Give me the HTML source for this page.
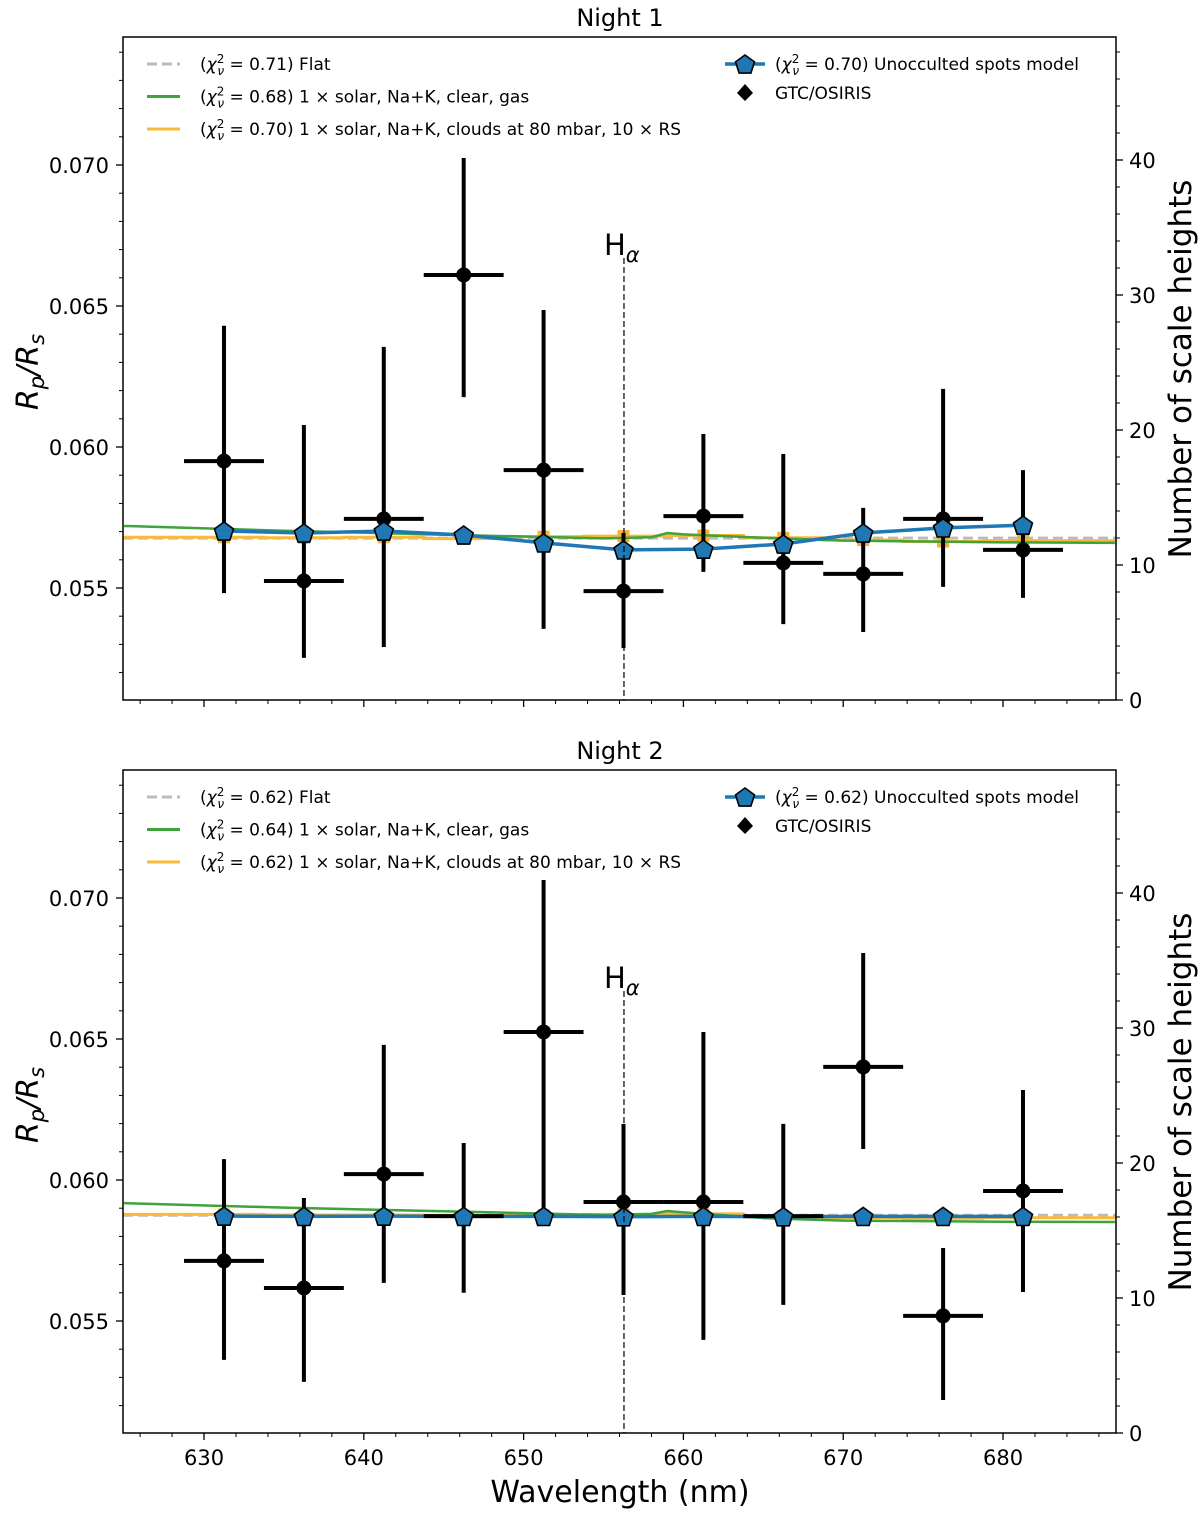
<!DOCTYPE html>
<html><head><meta charset="utf-8">
<style>
body{margin:0;background:#fff;}
svg{display:block;font-family:"DejaVu Sans","Liberation Sans",sans-serif;}
</style></head>
<body>
<svg id="chart" width="1200" height="1513" viewBox="0 0 1200 1513" xmlns="http://www.w3.org/2000/svg"></svg>
<script>
// ---- data ----
const wavelengths = [631.25,636.25,641.25,646.25,651.25,656.25,661.25,666.25,671.25,676.25,681.25];
const binHalfWidth = 2.5;
const night1Depth = [0.0595,0.05525,0.05745,0.0661,0.05918,0.05489,0.05755,0.05589,0.0555,0.05745,0.05635];
const night1ErrHigh = [0.0643,0.06078,0.06355,0.07025,0.06486,0.05695,0.06046,0.05975,0.05784,0.06206,0.05918];
const night1ErrLow = [0.05482,0.05252,0.05291,0.06177,0.05355,0.05287,0.05557,0.05372,0.05344,0.05504,0.05465];
const night1Spots = [0.05702,0.05695,0.05702,0.05688,0.0566,0.05635,0.05638,0.05656,0.05695,0.05713,0.05723];
const night1Flat = 0.05677;
const night1Clouds = [0.05680,0.05678,0.05680,0.05675,0.05682,0.05684,0.05686,0.05678,0.05670,0.05665,0.05668];
const night1ClearWl = [625,635,645,655,658,659,660,665,670,680,687];
const night1Clear = [0.0572,0.05703,0.05689,0.05676,0.0568,0.05695,0.0569,0.05678,0.05668,0.05662,0.0566];
const night1Chi = ["0.71","0.68","0.70","0.70"];

const night2Depth = [0.05713,0.05617,0.06021,0.05872,0.06525,0.05922,0.05922,0.05872,0.06401,0.05518,0.05961];
const night2ErrHigh = [0.06074,0.05936,0.06479,0.06131,0.07064,0.06199,0.06525,0.06199,0.06805,0.05759,0.06319];
const night2ErrLow = [0.05362,0.05284,0.05635,0.056,0.05872,0.05592,0.05433,0.05557,0.0611,0.0522,0.05603];
const night2Spots = [0.05872,0.05871,0.05872,0.05871,0.05871,0.0587,0.05871,0.05870,0.05871,0.05871,0.05871];
const night2Flat = 0.05875;
const night2Clouds = [0.05878,0.05876,0.05876,0.05874,0.05876,0.05878,0.05880,0.05872,0.05866,0.05864,0.05866];
const night2ClearWl = [625,635,645,655,658,659,660,665,670,680,687];
const night2Clear = [0.05918,0.05902,0.05889,0.05876,0.0588,0.0589,0.05885,0.05865,0.05856,0.05852,0.05851];
const night2Chi = ["0.62","0.64","0.62","0.62"];

const xTicks = [630,640,650,660,670,680];
const yTicks = [0.055,0.060,0.065,0.070];
const yTickLabels = ["0.055","0.060","0.065","0.070"];
const rightTicks = [0,10,20,30,40];
const hAlpha = 656.28;

// ---- layout ----
const NS="http://www.w3.org/2000/svg";
const svg=document.getElementById('chart');
const X0=123,X1=1116,XMIN=624.93,XMAX=687.07;
const sx=v=>X0+(v-XMIN)/(XMAX-XMIN)*(X1-X0);
function mk(tag,attrs,parent,text){const e=document.createElementNS(NS,tag);for(const k in attrs)e.setAttribute(k,attrs[k]);if(text!==undefined)e.textContent=text;(parent||svg).appendChild(e);return e;}

function panel(top,title,depth,hi,lo,spots,flat,clouds,clearWl,clear,chi,idx){
  const Y0=top,Y1=top+663;
  const sy=v=>Y0+128+(0.070-v)*28200;
  const sr=h=>Y1-h*13.5;
  const g=mk('g',{});
  
  
  const t=mk('text',{x:620,y:top-11,'text-anchor':'middle','font-size':24},g,title);
  
  
  const clip='clip'+idx;
  const cp=mk('clipPath',{id:clip},g);mk('rect',{x:X0,y:Y0,width:X1-X0,height:Y1-Y0},cp);
  const plot=mk('g',{'clip-path':'url(#'+clip+')'},g);
  const fl=mk('line',{x1:X0,x2:X1,y1:sy(flat),y2:sy(flat),stroke:'#bbbbbb','stroke-width':3,'stroke-dasharray':'10,5'},plot);
  
  
  let d='';wavelengths.forEach((w,i)=>{const a=sx(i==0?XMIN:w-binHalfWidth),b=sx(i==wavelengths.length-1?XMAX:w+binHalfWidth);d+=(i==0?'M':'L')+a+','+sy(clouds[i])+'L'+b+','+sy(clouds[i]);});
  const cl=mk('path',{d:d,fill:'none',stroke:'#fbb93a','stroke-width':3},plot);
  
  
  wavelengths.forEach((w,i)=>{const m=mk('rect',{x:sx(w)-6,y:sy(clouds[i])-6,width:12,height:12,fill:'#f5b03a'},plot);
    
    });
  const cpath=clearWl.map((w,i)=>(i?'L':'M')+sx(w)+','+sy(clear[i])).join('');
  const cg=mk('path',{d:cpath,fill:'none',stroke:'#3ea33a','stroke-width':2.5},plot);
  
  
  const sp=wavelengths.map((w,i)=>(i?'L':'M')+sx(w)+','+sy(spots[i])).join('');
  const sl=mk('path',{d:sp,fill:'none',stroke:'#1f77b4','stroke-width':3.5},plot);
  
  
  const pent=(cx,cy,r)=>{let p=[];for(let k=0;k<5;k++){const a=-Math.PI/2+k*2*Math.PI/5;p.push((cx+r*Math.cos(a)).toFixed(1)+','+(cy+r*Math.sin(a)).toFixed(1));}return p.join(' ');};
  const ha=mk('line',{x1:sx(hAlpha),x2:sx(hAlpha),y1:sy(0.0667),y2:Y1,stroke:'#000','stroke-width':1.2,'stroke-dasharray':'6,3'},g);
  
  
  const hl=mk('text',{x:sx(hAlpha)-20,y:sy(0.0667)-3,'font-size':29},g);
  hl.innerHTML='H<tspan font-size="21" font-style="italic" dy="7">α</tspan>';
  
  
  wavelengths.forEach((w,i)=>{
    const e=mk('g',{},plot);
    
    
    mk('line',{x1:sx(w),x2:sx(w),y1:sy(hi[i]),y2:sy(lo[i]),stroke:'#000','stroke-width':4},e);
    mk('line',{x1:sx(w-binHalfWidth),x2:sx(w+binHalfWidth),y1:sy(depth[i]),y2:sy(depth[i]),stroke:'#000','stroke-width':4},e);
    mk('circle',{cx:sx(w),cy:sy(depth[i]),r:7.5,fill:'#000'},e);
  });
  wavelengths.forEach((w,i)=>{const m=mk('polygon',{points:pent(sx(w),sy(spots[i])+1,10),fill:'#1f77b4',stroke:'#000','stroke-width':1.6},plot);
    
    });
  mk('rect',{x:X0,y:Y0,width:X1-X0,height:Y1-Y0,fill:'none',stroke:'#000','stroke-width':1.5},g);
  for(let v=626;v<=686;v+=2){const maj=v%10==0;mk('line',{x1:sx(v),x2:sx(v),y1:Y1,y2:Y1+(maj?7:4),stroke:'#000','stroke-width':maj?1.3:1},g);}
  if(idx==2){xTicks.forEach(v=>{const tl=mk('text',{x:sx(v),y:Y1+32,'text-anchor':'middle','font-size':21},g,String(v));
    
    });}
  for(let k=52;k<=74;k++){const v=k/1000;const maj=k%5==0;mk('line',{x1:X0,x2:X0-(maj?7:4),y1:sy(v),y2:sy(v),stroke:'#000','stroke-width':maj?1.3:1},g);}
  yTicks.forEach((v,i)=>{const tl=mk('text',{x:X0-14,y:sy(v)+8,'text-anchor':'end','font-size':21},g,yTickLabels[i]);
    
    });
  for(let h=0;h<=48;h+=2){const maj=h%10==0;mk('line',{x1:X1,x2:X1+(maj?7:4),y1:sr(h),y2:sr(h),stroke:'#000','stroke-width':maj?1.3:1},g);}
  rightTicks.forEach(h=>{const tl=mk('text',{x:X1+13,y:sr(h)+8,'font-size':21},g,String(h));
    
    });
  const yl=mk('text',{transform:`translate(38,${Y0+335}) rotate(-90)`,'text-anchor':'middle','font-size':30,'font-style':'italic'},g);
  yl.innerHTML='R<tspan font-size="21" dy="6">p</tspan><tspan dy="-6">/R</tspan><tspan font-size="21" dy="6">s</tspan>';
  
  
  const rl=mk('text',{transform:`translate(1191,${Y0+332}) rotate(-90)`,'text-anchor':'middle','font-size':31},g,'Number of scale heights');
  
  
  const chiT=v=>'(<tspan font-style="italic">χ</tspan><tspan font-size="12" dy="-7">2</tspan><tspan font-size="12" font-style="italic" dx="-7" dy="12">ν</tspan><tspan dy="-5"> =  '+v+')</tspan>';
  const leg=[['flat','#bbbbbb','10,5',chi[0],' Flat'],['clear','#3ea33a','',chi[1],' 1 ×  solar, Na+K, clear, gas'],['clouds','#fbb93a','',chi[2],' 1 ×  solar, Na+K, clouds at 80 mbar, 10 × RS']];
  leg.forEach((l,i)=>{const yy=Y0+27+i*32.5;const lg=mk('g',{},g);
    
    
    mk('line',{x1:147,x2:180,y1:yy,y2:yy,stroke:l[1],'stroke-width':3,'stroke-dasharray':l[2]||'none'},lg);
    const tx=mk('text',{x:200,y:yy+6,'font-size':17},lg);tx.innerHTML=chiT(l[3])+'<tspan>'+l[4]+'</tspan>';});
  const lg1=mk('g',{},g);
  
  
  mk('line',{x1:725,x2:765,y1:Y0+27,y2:Y0+27,stroke:'#1f77b4','stroke-width':3.5},lg1);
  mk('polygon',{points:pent(745,Y0+28,10),fill:'#1f77b4',stroke:'#000','stroke-width':1.6},lg1);
  const t1=mk('text',{x:775,y:Y0+33,'font-size':17},lg1);t1.innerHTML=chiT(chi[3])+'<tspan> Unocculted spots model</tspan>';
  const lg2=mk('g',{},g);
  
  
  mk('polygon',{points:`745,${Y0+47} 753,${Y0+56} 745,${Y0+64} 737,${Y0+56}`,fill:'#000'},lg2);
  mk('text',{x:775,y:Y0+62,'font-size':17},lg2,'GTC/OSIRIS');
}
panel(37,'Night 1',night1Depth,night1ErrHigh,night1ErrLow,night1Spots,night1Flat,night1Clouds,night1ClearWl,night1Clear,night1Chi,1);
panel(770,'Night 2',night2Depth,night2ErrHigh,night2ErrLow,night2Spots,night2Flat,night2Clouds,night2ClearWl,night2Clear,night2Chi,2);
const xl=mk('text',{x:620,y:1502,'text-anchor':'middle','font-size':30},svg,'Wavelength (nm)');


</script>
</body></html>
